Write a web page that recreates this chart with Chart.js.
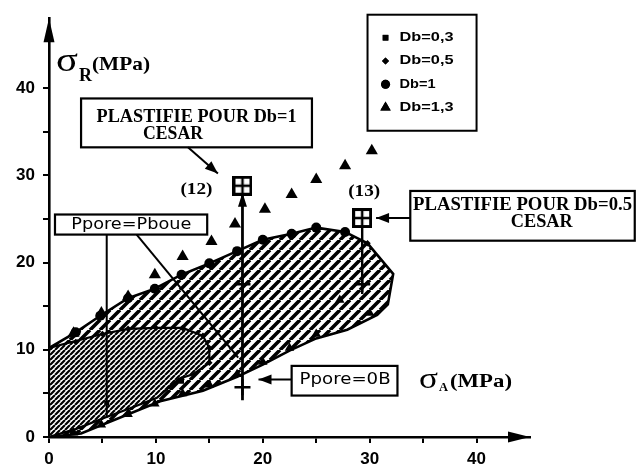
<!DOCTYPE html>
<html>
<head>
<meta charset="utf-8">
<script src="https://cdn.jsdelivr.net/npm/chart.js@4"></script>
<style>
  html, body { margin: 0; padding: 0; background: #fff; }
  #c { display: block; }
</style>
</head>
<body>
<canvas id="c" width="637" height="468"></canvas>
<script>
// ---- Measured points (sigma_A, sigma_R in MPa) for each bond coefficient Db ----
const db03 = [[2.2, 0.6], [5.4, 3.9], [12.4, 6.4]];
const db05 = [[2.5, 10.9], [5.0, 11.8], [7.4, 12.4], [10.0, 12.5], [12.5, 12.5], [14.4, 11.6],
              [15.0, 10.2], [15.0, 8.5], [12.4, 6.6], [20.0, 8.6], [29.8, 22.2]];
const db1  = [[2.5, 12.0], [4.8, 13.9], [7.4, 15.9], [9.9, 17.0], [12.4, 18.6], [15.0, 19.9],
              [17.6, 21.3], [20.0, 22.6], [22.7, 23.3], [25.0, 24.0], [27.7, 23.5]];
const db13Upper = [[2.3, 11.9], [4.9, 14.2], [7.4, 16.1], [9.9, 18.6], [12.5, 20.7], [15.2, 22.4],
                   [17.4, 24.4], [20.2, 26.1], [22.7, 27.8], [25.0, 29.5], [27.7, 31.1], [30.2, 32.8]];
const db13Lower = [[2.3, 0.5], [4.9, 1.4], [7.4, 2.6], [9.9, 3.8], [12.5, 5.0], [15.0, 6.0],
                   [17.6, 7.2], [20.0, 8.6], [22.5, 10.2], [25.0, 11.8], [27.2, 15.7], [30.0, 14.2]];

// CESAR plastification points (12) and (13)
const cesar = [[18.1, 28.8], [29.3, 25.1]];
const cesarLabels = ['(12)', '(13)'];

// Outline of the whole loaded domain, and of the domain with Ppore = Pboue
const domainOuter = [[0, 0], [0, 10.2], [2.5, 12.0], [4.8, 13.9], [7.4, 15.9], [9.9, 17.0], [12.4, 18.6],
                     [15.0, 19.9], [17.6, 21.3], [20.0, 22.6], [22.7, 23.3], [25.0, 24.0], [27.7, 23.5],
                     [29.8, 22.2], [32.2, 18.7], [31.7, 15.2], [30.7, 14.0], [27.9, 12.3], [25.0, 11.3],
                     [22.5, 9.9], [20.0, 8.3], [17.6, 6.9], [14.4, 5.3], [10.4, 4.1], [3.0, 0.4], [0, 0]];
const domainPboue = [[0, 0], [0, 10.2], [5.0, 11.8], [7.4, 12.4], [10.0, 12.5], [12.5, 12.5], [14.4, 11.6],
                     [15.0, 10.2], [15.0, 8.5], [13.5, 7.2], [12.2, 6.7], [10.1, 4.5], [7.6, 3.3],
                     [5.2, 2.2], [2.5, 0.9], [0, 0]];

// Load paths followed up to the CESAR points
const path12 = [[18.1, 4.2], [18.1, 28.3]];
const path13 = [[29.3, 16.4], [29.3, 24.4]];
const pathCross = [[18.1, 5.7], [18.1, 17.5], [29.3, 17.5]];
const pbouePointer = [[5.4, 2.2], [5.4, 23.2]];

// Axis tick labels
const xTickLabels = ['0', '10', '20', '30', '40'];
const yTickLabels = ['0', '10', '20', '30', '40'];

const toXY = a => a.map(([x, y]) => ({ x, y }));

const canvas = document.getElementById('c');
const ctx0 = canvas.getContext('2d');

function hatch(period, width) {
  const t = document.createElement('canvas');
  t.width = t.height = period;
  const g = t.getContext('2d');
  g.fillStyle = '#fff';
  g.fillRect(0, 0, period, period);
  g.strokeStyle = '#000';
  g.lineWidth = width;
  g.beginPath();
  for (let k = -1; k <= 1; k++) {
    g.moveTo(k * period, period);
    g.lineTo(k * period + period, 0);
  }
  g.stroke();
  return ctx0.createPattern(t, 'repeat');
}

function gridMarker(size) {
  const t = document.createElement('canvas');
  t.width = t.height = size;
  const g = t.getContext('2d');
  g.fillStyle = '#000';
  g.fillRect(0, 0, size, size);
  g.fillStyle = '#fff';
  const m = 3, gap = 2.5, c = (size - 2 * m - gap) / 2;
  g.fillRect(m, m, c, c);
  g.fillRect(m + c + gap, m, c, c);
  g.fillRect(m, m + c + gap, c, c);
  g.fillRect(m + c + gap, m + c + gap, c, c);
  return t;
}

const coarse = hatch(10, 3.6);
const fine = hatch(5, 2.2);

// Boxed captions, in data units: [x0, y0, x1, y1]
const captions = [
  { box: [3.0, 38.8, 24.6, 33.2], lines: [
      { t: 'PLASTIFIE POUR Db=1', x: 13.8, y: 36.6, w: 200, font: 'bold 18px "Liberation Serif"' },
      { t: 'CESAR', x: 11.6, y: 34.7, w: 60, font: 'bold 18px "Liberation Serif"' }],
    arrow: [[13.0, 33.2], [15.8, 30.2]] },
  { box: [33.8, 28.2, 54.8, 22.5], lines: [
      { t: 'PLASTIFIE POUR Db=0.5', x: 44.3, y: 26.5, w: 219, font: 'bold 18px "Liberation Serif"' },
      { t: 'CESAR', x: 46.1, y: 24.6, w: 62, font: 'bold 18px "Liberation Serif"' }],
    arrow: [[33.8, 25.1], [30.6, 25.1]] },
  { box: [0.56, 25.5, 14.8, 23.2], lines: [
      { t: 'Ppore=Pboue', x: 7.7, y: 24.3, w: 120, font: '16px "DejaVu Sans"' }],
    line: [[8.2, 23.2], [17.7, 9.1]] },
  { box: [22.7, 8.15, 32.6, 4.75], lines: [
      { t: 'Ppore=0B', x: 27.7, y: 6.5, w: 91, font: '16px "DejaVu Sans"' }],
    arrow: [[22.7, 6.6], [19.6, 6.6]] }
];

const legendItems = [
  { label: 'Db=0,3', style: 'rect', r: 4 },
  { label: 'Db=0,5', style: 'rectRot', r: 3.5 },
  { label: 'Db=1', style: 'circle', r: 4.5 },
  { label: 'Db=1,3', style: 'triangle', r: 6 }
];

function arrowHead(ctx, x0, y0, x1, y1, len, half) {
  const a = Math.atan2(y1 - y0, x1 - x0);
  ctx.beginPath();
  ctx.moveTo(x1, y1);
  ctx.lineTo(x1 - len * Math.cos(a) + half * Math.sin(a), y1 - len * Math.sin(a) - half * Math.cos(a));
  ctx.lineTo(x1 - len * Math.cos(a) - half * Math.sin(a), y1 - len * Math.sin(a) + half * Math.cos(a));
  ctx.closePath();
  ctx.fill();
}

// draws text squeezed or stretched to width w; align 'center' or 'left'
function fitText(ctx, t, x, cy, w, font, align) {
  ctx.save();
  ctx.font = font;
  const m = ctx.measureText(t).width;
  ctx.translate(x, cy);
  ctx.scale(w / m, 1);
  ctx.textAlign = align || 'center';
  ctx.textBaseline = 'middle';
  ctx.fillText(t, 0, 0);
  ctx.restore();
}

const decor = {
  id: 'decor',
  afterDraw(chart) {
    const { ctx, scales: { x, y }, chartArea: ca } = chart;
    const px = v => x.getPixelForValue(v), py = v => y.getPixelForValue(v);
    ctx.save();
    ctx.fillStyle = '#000';
    ctx.strokeStyle = '#000';

    // axis arrowheads
    arrowHead(ctx, ca.left, ca.bottom, ca.left, ca.top, 24, 5.5);
    arrowHead(ctx, ca.left, ca.bottom, ca.right, ca.bottom, 22, 5.5);

    // arrowhead on load path (12)
    arrowHead(ctx, px(18.1), py(20), px(18.1), py(28.0), 14, 4.5);

    // axis titles
    fitText(ctx, 'σ', 56, 62, 22, '34px "Liberation Serif"', 'left');
    fitText(ctx, 'R', 79, 76, 13, 'bold 19px "Liberation Serif"', 'left');
    fitText(ctx, '(MPa)', 92, 65, 58, 'bold 19px "Liberation Serif"', 'left');
    fitText(ctx, 'σ', 419, 380, 19, '30px "Liberation Serif"', 'left');
    fitText(ctx, 'A', 439, 388, 9, 'bold 13px "Liberation Serif"', 'left');
    fitText(ctx, '(MPa)', 450, 382, 62, 'bold 19px "Liberation Serif"', 'left');

    // CESAR point labels
    cesar.forEach(([cx, cy], i) => {
      const dx = i === 0 ? -46 : 2, dy = i === 0 ? 4 : -26;
      fitText(ctx, cesarLabels[i], px(cx) + dx, py(cy) + dy, 32, 'bold 16px "Liberation Serif"');
    });

    // boxed captions with pointers
    captions.forEach(c => {
      const [x0, y0, x1, y1] = c.box;
      ctx.fillStyle = '#fff';
      ctx.fillRect(px(x0), py(y0), px(x1) - px(x0), py(y1) - py(y0));
      ctx.fillStyle = '#000';
      ctx.lineWidth = 2.2;
      ctx.strokeRect(px(x0), py(y0), px(x1) - px(x0), py(y1) - py(y0));
      c.lines.forEach(l => fitText(ctx, l.t, px(l.x), py(l.y), l.w, l.font));
      const seg = c.arrow || c.line;
      ctx.lineWidth = 2;
      ctx.beginPath();
      ctx.moveTo(px(seg[0][0]), py(seg[0][1]));
      ctx.lineTo(px(seg[1][0]), py(seg[1][1]));
      ctx.stroke();
      if (c.arrow) arrowHead(ctx, px(seg[0][0]), py(seg[0][1]), px(seg[1][0]), py(seg[1][1]), 13, 5);
    });

    // legend box
    const lx0 = px(29.8), ly0 = py(48.4), lx1 = px(40.0), ly1 = py(35.1);
    ctx.fillStyle = '#fff';
    ctx.fillRect(lx0, ly0, lx1 - lx0, ly1 - ly0);
    ctx.fillStyle = '#000';
    ctx.lineWidth = 2;
    ctx.strokeRect(lx0, ly0, lx1 - lx0, ly1 - ly0);
    legendItems.forEach((it, i) => {
      const yy = ly0 + 23 + i * 23.3;
      Chart.helpers.drawPoint(ctx, { pointStyle: it.style, radius: it.r, borderWidth: 0, rotation: 0 }, lx0 + 18, yy);
      ctx.fill();
      fitText(ctx, it.label, lx0 + 32, yy, it.label.length * 9, 'bold 12px "Liberation Sans"', 'left');
    });
    ctx.restore();
  }
};

const pointSet = (label, arr, style, r) => ({
  label, data: toXY(arr), pointStyle: style, pointRadius: r, pointHoverRadius: r,
  backgroundColor: '#000', borderColor: '#000', borderWidth: 0, order: 2
});

const lineSet = (label, arr, extra) => Object.assign({
  type: 'line', label, data: toXY(arr), showLine: true, borderColor: '#000', borderWidth: 2,
  pointRadius: 0, tension: 0, fill: false, order: 5
}, extra);

new Chart(canvas, {
  type: 'scatter',
  data: {
    datasets: [
      Object.assign(pointSet('CESAR', cesar, gridMarker(20), 10), { order: 0 }),
      pointSet('Db=0,3', db03, 'rect', 3.5),
      pointSet('Db=0,5', db05, 'rectRot', 3.2),
      pointSet('Db=1', db1, 'circle', 5),
      pointSet('Db=1,3', db13Upper, 'triangle', 7),
      pointSet('Db=1,3 ', db13Lower, 'triangle', 5.5),
      Object.assign(pointSet('crosses', pathCross, 'cross', 8), { borderWidth: 2.4, order: 3 }),
      lineSet('path12', path12, { borderWidth: 2.8 }),
      lineSet('path13', path13, { borderWidth: 2.4 }),
      lineSet('pboue', pbouePointer, { borderWidth: 2 }),
      lineSet('Ppore=Pboue', domainPboue, { fill: 'shape', backgroundColor: fine, borderWidth: 2.2, order: 8 }),
      lineSet('domain', domainOuter, { fill: 'shape', backgroundColor: coarse, borderWidth: 2.6, order: 9 })
    ]
  },
  options: {
    responsive: false,
    animation: false,
    devicePixelRatio: 1,
    layout: { padding: { top: 13, right: 107, bottom: 0, left: 0 } },
    plugins: { legend: { display: false }, tooltip: { enabled: false } },
    scales: {
      x: {
        type: 'linear', min: 0, max: 45,
        afterFit: s => { s.height = 31; },
        afterBuildTicks: s => { s.ticks = s.ticks.filter(t => t.value <= 40); },
        ticks: {
          stepSize: 5, color: '#000', padding: 6, maxRotation: 0, autoSkip: false,
          font: { family: '"Liberation Sans"', weight: 'bold', size: 17 },
          callback: v => (v % 10 === 0 ? xTickLabels[v / 10] : '')
        },
        grid: { drawOnChartArea: false, drawTicks: true, tickLength: 6, color: '#000', lineWidth: 2 },
        border: { display: true, color: '#000', width: 2.6 }
      },
      y: {
        type: 'linear', min: 0, max: 48,
        afterFit: s => { s.width = 49; },
        afterBuildTicks: s => { s.ticks = s.ticks.filter(t => t.value <= 40 && t.value % 5 === 0); },
        ticks: {
          stepSize: 5, color: '#000', padding: 8, autoSkip: false,
          font: { family: '"Liberation Sans"', weight: 'bold', size: 17 },
          callback: v => (v % 10 === 0 ? yTickLabels[v / 10] : '')
        },
        grid: { drawOnChartArea: false, drawTicks: true, tickLength: 6, color: '#000', lineWidth: 2 },
        border: { display: true, color: '#000', width: 2.6 }
      }
    }
  },
  plugins: [decor]
});
</script>
</body>
</html>
